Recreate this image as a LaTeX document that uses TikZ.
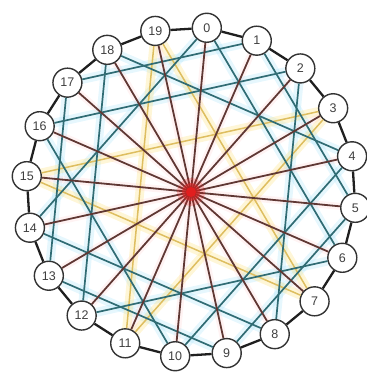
\documentclass[tikz,border=0pt]{standalone}
\usepackage{fontspec}
\setmainfont{Liberation Sans}
\definecolor{tealc}{RGB}{48,108,116}
\definecolor{yelc}{RGB}{222,190,96}
\definecolor{spokec}{RGB}{96,56,52}
\definecolor{hubc}{RGB}{226,30,30}
\tikzset{
  vtx/.style={circle, draw=black!80, line width=1.4pt, fill=white, minimum size=29pt, inner sep=0pt,
              font=\fontsize{12.5}{12.5}\selectfont, text=black!75},
  ringln/.style={line width=2.3pt, draw=black!88},
  spokeln/.style={line width=1.8pt, draw=spokec},
  tealln/.style={line width=1.7pt, draw=tealc},
  yelln/.style={line width=1.5pt, draw=yelc},
  tealhalo/.style={line width=9pt, draw=cyan!35, opacity=0.28},
  yelhalo/.style={line width=9pt, draw=yellow!60!orange!50, opacity=0.3},
  spokehalo/.style={line width=7pt, draw=red!25, opacity=0.18},
}
\begin{document}
\begin{tikzpicture}[x=1pt,y=1pt]
\useasboundingbox (0,0) rectangle (366,374);
\coordinate (c) at (191,182);
\foreach \k in {0,...,19}{
  \pgfmathsetmacro\ang{84.5-18*\k}
  \coordinate (q\k) at ([shift={(\ang:165)}]c);
}
% halos
\foreach \a/\b in {1/5,5/9,9/13,13/17,17/1,0/6,6/12,12/18,18/4,4/10,10/16,16/2,2/8,8/14,14/0}
  \draw[tealhalo] (q\a) -- (q\b);
\foreach \a/\b in {3/11,11/19,19/7,7/15,15/3}
  \draw[yelhalo] (q\a) -- (q\b);
\foreach \k in {0,...,19}
  \draw[spokehalo] (c) -- (q\k);
% nodes
\foreach \k in {0,...,19}
  \node[vtx] (n\k) at (q\k) {\k};
% chords
\foreach \a/\b in {3/11,11/19,19/7,7/15,15/3}
  \draw[yelln] (n\a) -- (n\b);
\foreach \a/\b in {1/5,5/9,9/13,13/17,17/1,0/6,6/12,12/18,18/4,4/10,10/16,16/2,2/8,8/14,14/0}
  \draw[tealln] (n\a) -- (n\b);
% spokes
\node[circle, fill=hubc, minimum size=9pt, inner sep=0pt] (hub) at (c) {};
\foreach \k in {0,...,19}
  \draw[spokeln] (hub.center) -- (n\k);
\fill[hubc, opacity=0.25] (c) circle (14pt);
\fill[hubc, opacity=0.5] (c) circle (9pt);
\fill[hubc] (c) circle (5pt);
% ring
\foreach \k in {0,...,19}{
  \pgfmathtruncatemacro\nx{mod(\k+1,20)}
  \draw[ringln] (n\k) -- (n\nx);
}
\end{tikzpicture}
\end{document}
